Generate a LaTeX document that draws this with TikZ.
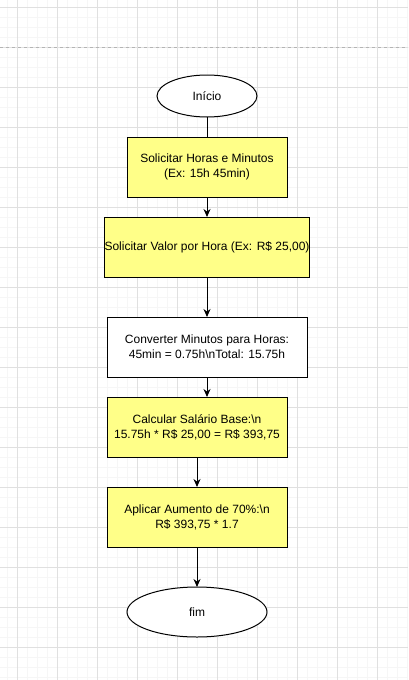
\documentclass[tikz,border=0pt]{standalone}
\usepackage{fontspec}
\setmainfont{Liberation Sans}
\usetikzlibrary{arrows.meta,shapes.geometric,positioning}
\definecolor{caixa}{HTML}{FFFF88}
\definecolor{gradeforte}{HTML}{E0E0E0}
\definecolor{gradefraca}{HTML}{F6F6F6}
\definecolor{quebra}{HTML}{B4B4B4}

\begin{document}
\begin{tikzpicture}[x=1pt,y=-1pt,->,>={Stealth[length=8pt,width=7pt]},line width=1pt,
  passo/.style={draw,fill=caixa,minimum height=60pt,inner xsep=0pt,outer sep=0pt,align=center,font=\fontsize{12}{15}\selectfont},
  term/.style={draw,ellipse,fill=white,inner sep=0pt,outer sep=0pt,font=\fontsize{12}{15}\selectfont}]
\useasboundingbox (0,0) rectangle (408,680);
\fill[white] (0,0) rectangle (408,680);
\foreach \x in {7,17,...,407} \draw[-,gradefraca,line width=0.8pt] (\x,0) -- (\x,680);
\foreach \y in {7,17,...,677} \draw[-,gradefraca,line width=0.8pt] (0,\y) -- (408,\y);
\foreach \x in {17,57,...,407} \draw[-,gradeforte,line width=0.8pt] (\x,0) -- (\x,680);
\foreach \y in {7,47,...,677} \draw[-,gradeforte,line width=0.8pt] (0,\y) -- (408,\y);
\draw[-,quebra,line width=0.8pt,dash pattern=on 3pt off 3pt] (0,47) -- (408,47);

\node[term,minimum width=100pt,minimum height=42pt] (inicio) at (207,96) {Início};
\node[passo,minimum width=160pt] (horas) [below=20pt of inicio] {Solicitar Horas e Minutos\\(Ex: 15h 45min)};
\node[passo,minimum width=200pt] (valor) [below=20pt of horas] {Solicitar Valor por Hora (Ex: R\$ 25,00)};
\node[passo,fill=white,minimum width=200pt] (converte) [below=40pt of valor] {Converter Minutos para Horas:\\45min = 0.75h\textbackslash nTotal: 15.75h};
\node[passo,minimum width=180pt] (salario) [below=20pt of converte,xshift=-10pt] {Calcular Salário Base:\textbackslash n\\15.75h * R\$ 25,00 = R\$ 393,75};
\node[passo,minimum width=180pt] (aumento) [below=30pt of salario] {Aplicar Aumento de 70\%:\textbackslash n\\R\$ 393,75 * 1.7};
\node[term,minimum width=140pt,minimum height=50pt] (fim) [below=40pt of aumento] {fim};

\path
  (inicio) edge[-] (horas)
  (horas) edge (valor)
  (valor) edge (converte)
  (converte.south) edge (converte.south |- salario.north)
  (salario) edge (aumento)
  (aumento) edge (fim);
\end{tikzpicture}
\end{document}
